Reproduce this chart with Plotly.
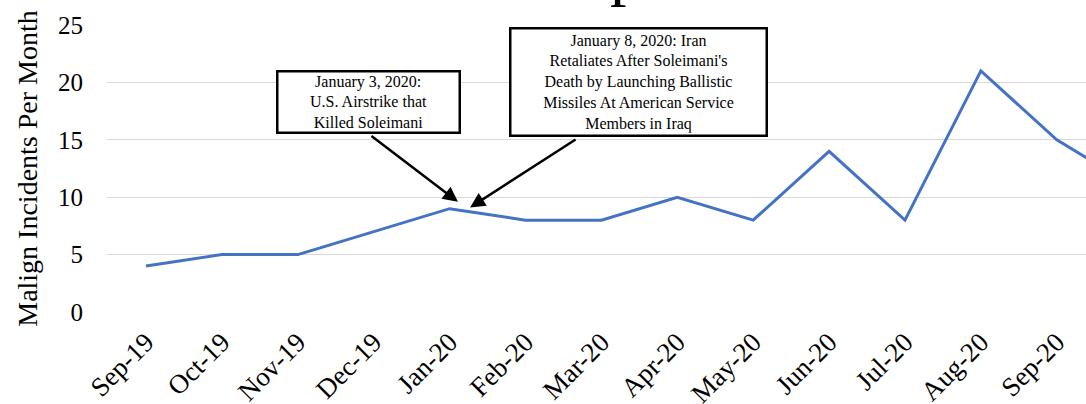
import plotly.graph_objects as go

months = ["Sep-19", "Oct-19", "Nov-19", "Dec-19", "Jan-20", "Feb-20", "Mar-20",
          "Apr-20", "May-20", "Jun-20", "Jul-20", "Aug-20", "Sep-20", "Oct-20"]
incidents = [4, 5, 5, 7, 9, 8, 8, 10, 8, 14, 8, 21, 15, 11]

y_ticks = [0, 5, 10, 15, 20, 25]

note1 = "January 3, 2020:<br>U.S. Airstrike that<br>Killed Soleimani"
note2 = ("January 8, 2020: Iran<br>Retaliates After Soleimani's<br>"
         "Death by Launching Ballistic<br>Missiles At American Service<br>Members in Iraq")

FONT = "Liberation Serif"

fig = go.Figure()
fig.add_trace(go.Scatter(
    x=list(range(len(months))), y=incidents, mode="lines",
    line=dict(color="#4472C4", width=3), cliponaxis=True, showlegend=False,
))

fig.update_layout(
    width=1086, height=404,
    margin=dict(l=107, r=0, t=25, b=92, autoexpand=False),
    paper_bgcolor="white", plot_bgcolor="white",
    font=dict(family=FONT, color="#000000"),
    xaxis=dict(
        range=[-0.514, 12.385], automargin=False,
        tickmode="array", tickvals=list(range(len(months))), ticktext=months,
        tickangle=-45, tickfont=dict(size=27, family=FONT),
        showgrid=False, zeroline=False, showline=False, ticks="",
        ticklabelstandoff=8,
    ),
    yaxis=dict(
        range=[0, 25], tickvals=y_ticks, tickfont=dict(size=25, family=FONT),
        automargin=False,
        showgrid=True, gridcolor="#d9d9d9", gridwidth=1,
        zeroline=False, showline=False, ticks="", ticklabelstandoff=23,
        title=dict(text="Malign Incidents Per Month", font=dict(size=28, family=FONT),
                   standoff=12),
    ),
)

# textbox annotations
fig.add_annotation(
    x=2.925, y=18.29, xref="x", yref="y", text=note1, showarrow=False,
    font=dict(size=16, family=FONT), align="center",
    bordercolor="black", borderwidth=2.5, bgcolor="white", borderpad=0,
    width=180,
)
fig.add_annotation(
    x=6.495, y=20.03, xref="x", yref="y", text=note2, showarrow=False,
    font=dict(size=16, family=FONT), align="center",
    bordercolor="black", borderwidth=2.5, bgcolor="white", borderpad=2,
    width=250,
)
# arrows
fig.add_annotation(x=4.11, y=9.6, xref="x", yref="y", text="", showarrow=True,
                   ax=-88, ay=-67, arrowhead=2, arrowsize=1.2, arrowwidth=2.5,
                   arrowcolor="black", standoff=0, startstandoff=0)
fig.add_annotation(x=4.27, y=9.1, xref="x", yref="y", text="", showarrow=True,
                   ax=107, ay=-69, arrowhead=2, arrowsize=1.2, arrowwidth=2.5,
                   arrowcolor="black", standoff=0, startstandoff=0)

# partially visible chart title (cropped at the top of the picture)
fig.add_annotation(x=6.337, y=1.0, xref="x", yref="paper", text="p", showarrow=False,
                   font=dict(size=66, family=FONT), yanchor="bottom", yshift=16)

fig.write_html("out.html")
